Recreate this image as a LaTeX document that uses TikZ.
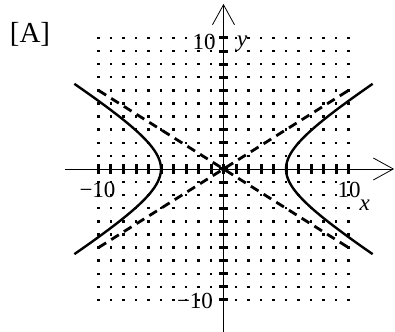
\documentclass[tikz,border=0pt]{standalone}
\usepackage{fontspec}
\setmainfont{Liberation Serif}
\usetikzlibrary{arrows.meta}

\begin{document}
\begin{tikzpicture}[
    x=12.5pt, y=13.1pt,
    axisline/.style={line width=0.8pt, -{Straight Barb[length=20pt,width=22pt,line width=0.8pt]}},
    curveline/.style={line width=2.4pt},
    asymline/.style={line width=2.8pt, dash pattern=on 9pt off 6pt},
    lbl/.style={font=\fontsize{23}{23}\selectfont, inner sep=0pt}
]
\useasboundingbox (-17.88,-12.44) rectangle (13.72,12.9);

% grid of dots
\foreach \i in {-10,...,10}
  \foreach \j in {-10,...,10}
    \fill (\i,\j) +(-1.2pt,-1.2pt) rectangle +(1.2pt,1.2pt);

% axes
\draw[axisline] (-12.68,0) -- (13.65,0);
\draw[axisline] (0,-12.44) -- (0,12.6);

% ticks
\foreach \i in {-10,...,10} {
  \fill (\i,0) +(-1.5pt,-5pt) rectangle +(1.5pt,5pt);
  \fill (0,\i) +(-4.5pt,-1.5pt) rectangle +(4.5pt,1.5pt);
}
\fill (0,0) circle (2.6pt);

% asymptotes
\draw[asymline] (-10,-6) -- (10,6);
\draw[asymline] (-10,6) -- (10,-6);

% hyperbola
\draw[curveline] plot[smooth, samples=60, domain=-6.5:6.5, variable=\t] ({5*sqrt(1+\t*\t/9)},\t);
\draw[curveline] plot[smooth, samples=60, domain=-6.5:6.5, variable=\t] ({-5*sqrt(1+\t*\t/9)},\t);

% labels
\node[lbl] (ytop) at (-1.56,9.7) {10};
\node[lbl] (ylab) at (1.5,9.55) {\itshape y};
\node[lbl] (xleft) at (-10.08,-1.6) {−10};
\node[lbl] (xright) at (10.04,-1.6) {10};
\node[lbl] (xlab) at (11.3,-2.75) {\itshape x};
\node[lbl] (ybot) at (-2.28,-10.1) {−10};
\node[lbl, font=\fontsize{29}{29}\selectfont] (tag) at (-15.48,10.25) {[A]};
\end{tikzpicture}
\end{document}
